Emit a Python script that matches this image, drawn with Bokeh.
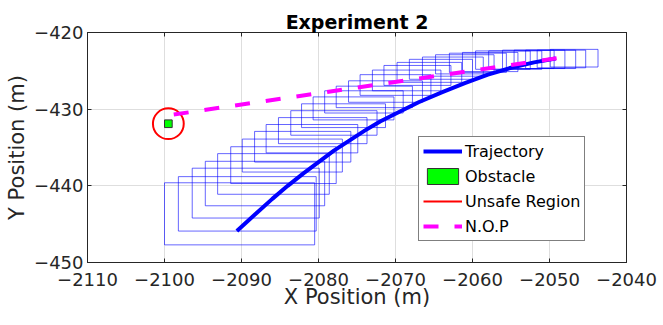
from bokeh.plotting import figure
from bokeh.models import Range1d, LinearAxis, Legend, LegendItem, FixedTicker
from bokeh.embed import file_html
from bokeh.resources import INLINE

# ---------------- data ----------------
traj_x = [-2090.6, -2088.0, -2086.0, -2084.0, -2082.0, -2080.0, -2078.0, -2076.0,
          -2074.0, -2072.0, -2070.0, -2067.0, -2064.0, -2061.0, -2058.0, -2055.0,
          -2052.0, -2049.2]
traj_y = [-445.9, -443.5, -441.7, -440.0, -438.4, -436.9, -435.4, -434.1,
          -432.8, -431.6, -430.6, -429.1, -427.8, -426.6, -425.5, -424.6,
          -423.9, -423.4]

nop_x = [-2098.8, -2048.6]
nop_y = [-430.7, -423.3]

obstacle_x = [-2099.5]
obstacle_y = [-431.9]
obstacle_w = [1.0]
obstacle_h = [1.0]
unsafe_r = [2.0]

box_left = [-2100.0, -2098.2, -2096.4, -2094.7, -2093.1, -2091.4, -2089.9, -2088.3,
            -2086.8, -2085.2, -2083.6, -2082.2, -2080.7, -2079.2, -2077.7, -2076.1,
            -2074.6, -2073.0, -2071.5, -2069.8, -2068.2, -2066.5, -2064.8, -2063.0,
            -2061.3, -2059.6, -2057.9, -2056.1, -2054.6, -2053.1, -2051.6, -2049.9]
box_right = [-2080.5, -2080.3, -2079.9, -2079.2, -2078.6, -2077.7, -2076.9, -2075.8,
             -2074.9, -2073.7, -2072.4, -2071.3, -2070.2, -2069.0, -2067.8, -2066.5,
             -2065.4, -2064.1, -2062.8, -2061.4, -2060.0, -2058.6, -2057.2, -2055.6,
             -2054.1, -2052.5, -2051.0, -2049.4, -2048.0, -2046.6, -2045.3, -2043.7]
box_top = [-439.6, -438.8, -437.7, -436.8, -435.8, -434.9, -433.9, -432.9,
           -432.0, -431.1, -430.2, -429.3, -428.4, -427.6, -427.0, -426.3,
           -425.5, -424.9, -424.3, -423.9, -423.5, -423.2, -422.9, -422.7,
           -422.6, -422.4, -422.4, -422.3, -422.3, -422.3, -422.3, -422.2]
box_bottom = [-447.7, -445.9, -444.2, -442.6, -441.1, -439.7, -438.2, -436.9,
              -435.7, -434.5, -433.4, -432.4, -431.4, -430.5, -429.8, -429.1,
              -428.2, -427.6, -426.9, -426.5, -426.1, -425.7, -425.4, -425.2,
              -425.1, -424.8, -424.8, -424.7, -424.7, -424.7, -424.6, -424.5]

x_ticks = [-2110, -2100, -2090, -2080, -2070, -2060, -2050, -2040]
y_ticks = [-450, -440, -430, -420]
x_lim = (-2110, -2040)
y_lim = (-450, -420)

FONT = "DejaVu Sans"
AX = "#262626"

p = figure(width=660, height=322, output_backend="svg", toolbar_location=None,
           x_range=Range1d(*x_lim), y_range=Range1d(*y_lim),
           min_border_left=87, min_border_right=34, min_border_top=32,
           min_border_bottom=60, background_fill_color="white",
           border_fill_color="white")

p.title.text = "Experiment 2"
p.title.text_font = FONT
p.title.text_font_style = "bold"
p.title.text_font_size = "19px"
p.title.text_color = "black"
p.title.align = "center"
p.title.standoff = 0

p.outline_line_color = AX
p.outline_line_width = 1

# boxes
p.quad(left=box_left, right=box_right, top=box_top, bottom=box_bottom,
       fill_alpha=0, line_color="#0000ff", line_alpha=0.6, line_width=1)

traj = p.line(traj_x, traj_y, line_color="#0000ff", line_width=4)
obs = p.rect(x=obstacle_x, y=obstacle_y, width=obstacle_w, height=obstacle_h,
             fill_color="#00ff00", line_color="#333333", line_width=1)
p.circle(x=obstacle_x, y=obstacle_y, radius=unsafe_r, fill_alpha=0,
         line_color="#ff0000", line_width=2)
# zero-length line only used for the legend entry of the unsafe region
unsafe_leg = p.line(x=obstacle_x * 2, y=obstacle_y * 2, line_color="#ff0000",
                    line_width=2, line_cap="butt")
nop = p.line(nop_x, nop_y, line_color="#ff00ff", line_width=4, line_dash="15 16")

# axes
for ax in (p.xaxis[0], p.yaxis[0]):
    ax.axis_line_color = AX
    ax.major_tick_line_color = AX
    ax.minor_tick_line_color = None
    ax.major_tick_in = 4
    ax.major_tick_out = 0
    ax.major_label_text_font = FONT
    ax.major_label_text_font_size = "18px"
    ax.major_label_text_color = AX
    ax.axis_label_text_font = FONT
    ax.axis_label_text_font_size = "21px"
    ax.axis_label_text_font_style = "normal"
    ax.axis_label_text_color = AX

p.xaxis[0].ticker = FixedTicker(ticks=x_ticks)
p.yaxis[0].ticker = FixedTicker(ticks=y_ticks)
p.xaxis[0].axis_label = "X Position (m)"
p.yaxis[0].axis_label = "Y Position (m)"
p.xaxis[0].major_label_standoff = 10
p.xaxis[0].axis_label_standoff = -4
p.yaxis[0].major_label_standoff = 4
p.yaxis[0].axis_label_standoff = 2

top_ax = LinearAxis(ticker=FixedTicker(ticks=x_ticks), major_label_text_color=None,
                    major_label_text_font_size="1px",
                    major_tick_in=4, major_tick_out=0, minor_tick_line_color=None,
                    axis_line_color=AX, major_tick_line_color=AX, major_label_standoff=0)
right_ax = LinearAxis(ticker=FixedTicker(ticks=y_ticks), major_label_text_color=None,
                      major_label_text_font_size="1px",
                      major_tick_in=4, major_tick_out=0, minor_tick_line_color=None,
                      axis_line_color=AX, major_tick_line_color=AX, major_label_standoff=0)
p.add_layout(top_ax, "above")
p.add_layout(right_ax, "right")

p.xgrid.ticker = FixedTicker(ticks=x_ticks)
p.ygrid.ticker = FixedTicker(ticks=y_ticks)
p.grid.grid_line_color = "#dedede"
p.grid.grid_line_width = 1

legend = Legend(items=[LegendItem(label="Trajectory", renderers=[traj]),
                       LegendItem(label="Obstacle", renderers=[obs]),
                       LegendItem(label="Unsafe Region", renderers=[unsafe_leg]),
                       LegendItem(label="N.O.P", renderers=[nop])],
                location=(331, 21), orientation="vertical",
                label_text_font=FONT, label_text_font_size="16px",
                label_text_color="black", glyph_width=39, glyph_height=20,
                label_height=20, label_standoff=3, spacing=5, padding=4,
                margin=0, border_line_color="black", border_line_width=1,
                background_fill_color="white", background_fill_alpha=1.0)
p.add_layout(legend, "center")

open("out.html", "w").write(file_html(p, INLINE))
